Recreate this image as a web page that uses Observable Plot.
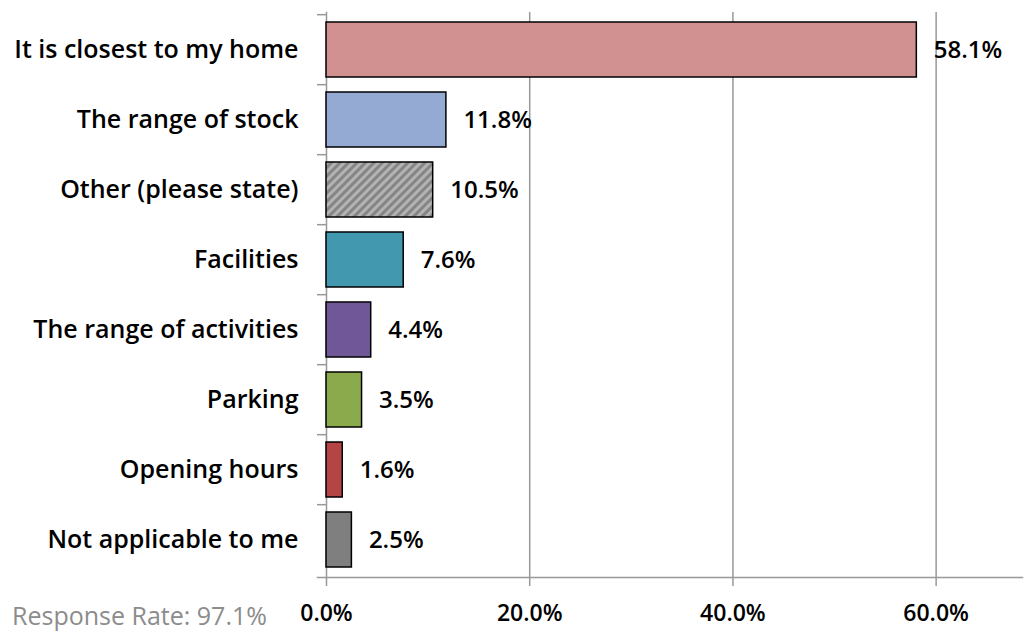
<!DOCTYPE html>
<html>
<head>
<meta charset="utf-8">
<script src="https://cdn.jsdelivr.net/npm/d3@7"></script>
<script src="https://cdn.jsdelivr.net/npm/@observablehq/plot@0.6"></script>
<style>
  html, body { margin: 0; padding: 0; background: #fff; }
  #wrap { position: relative; width: 1025px; height: 633px; }
  #caption { position: absolute; left: 12px; top: 598px; font: 25px "Open Sans", sans-serif; line-height: normal; color: #8c8c8c; white-space: nowrap; }
</style>
</head>
<body>
<div id="wrap"><div id="caption">Response Rate: 97.1%</div></div>
<script>
const categories = ["It is closest to my home", "The range of stock", "Other (please state)", "Facilities", "The range of activities", "Parking", "Opening hours", "Not applicable to me"];
const values = [58.1, 11.8, 10.5, 7.6, 4.4, 3.5, 1.6, 2.5];
const colors = ["#D29191", "#95AAD2", "url(#hatch)", "#4198AF", "#705898", "#8BAA4B", "#B54545", "#7F7F7F"];
const xTicks = [0, 20, 40, 60];

const data = categories.map((c, i) => ({category: c, value: values[i], color: colors[i]}));

const W = 1025, H = 633, mTop = 12, mBottom = 56, mLeft = 326, mRight = 3;
const step = (H - mTop - mBottom) / categories.length;
const font = '"Open Sans", sans-serif';

const chart = Plot.plot({
  width: W,
  height: H,
  marginTop: mTop,
  marginBottom: mBottom,
  marginLeft: mLeft,
  marginRight: mRight,
  style: {fontFamily: font, fontWeight: "600", fontSize: "23px", color: "#000", background: "#fff", overflow: "visible"},
  x: {domain: [0, 68.5], label: null},
  y: {domain: categories, paddingInner: 0.22, paddingOuter: 0.11, label: null},
  color: {type: "identity"},
  marks: [
    Plot.gridX(xTicks.slice(1), {stroke: "#999", strokeOpacity: 1, strokeWidth: 1.5}),
    Plot.axisX(xTicks, {tickSize: 9, tickPadding: 18, stroke: "#999", strokeWidth: 1.5, tickFormat: d => d.toFixed(1) + "%", fontSize: 23, fontWeight: "600", fill: "#000", label: null}),
    Plot.axisY({tickSize: 0, tickPadding: 28, fontSize: 25, fontWeight: "600", fill: "#000", label: null}),
    Plot.axisY({tickSize: 9, text: null, dy: -step / 2, stroke: "#999", strokeWidth: 1.5, label: null}),
    Plot.frame({anchor: "bottom", stroke: "#999", strokeWidth: 1.5, insetLeft: -9}),
    Plot.frame({anchor: "left", stroke: "#999", strokeWidth: 1.5}),
    Plot.barX(data, {x: "value", y: "category", fill: "color", stroke: "#000", strokeWidth: 1.5}),
    Plot.text(data, {x: "value", y: "category", text: d => d.value.toFixed(1) + "%", textAnchor: "start", dx: 17, fontSize: 24, fontWeight: "600", fill: "#000"})
  ]
});

d3.select(chart).insert("defs", ":first-child").html(`
  <pattern id="hatch" patternUnits="userSpaceOnUse" width="6" height="6" patternTransform="rotate(45)">
    <rect width="6" height="6" fill="#b3b3b3"/>
    <rect width="3" height="6" fill="#858585"/>
  </pattern>`);

document.getElementById("wrap").prepend(chart);
</script>
</body>
</html>
